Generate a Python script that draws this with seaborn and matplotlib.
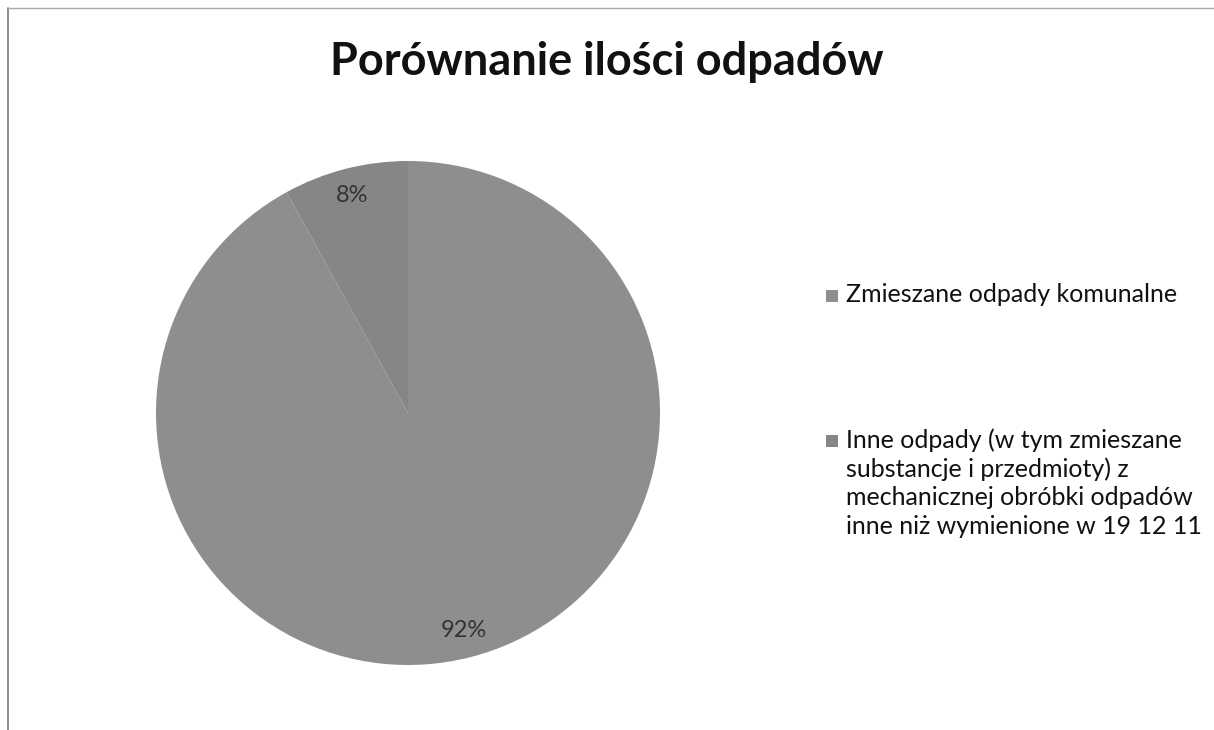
import matplotlib
matplotlib.use('Agg')
import matplotlib.pyplot as plt
from matplotlib.patches import Rectangle
import seaborn as sns

# dane wykresu
kategorie = [
    'Zmieszane odpady komunalne',
    'Inne odpady (w tym zmieszane\nsubstancje i przedmioty) z\nmechanicznej obróbki odpadów\ninne niż wymienione w 19 12 11',
]
udzialy = [92, 8]
kolory = ['#8e8e8e', '#868686']

sns.set_theme(style='white')
plt.rcParams['font.family'] = ['Lato', 'DejaVu Sans']

fig = plt.figure(figsize=(12.14, 7.3), dpi=100)
W, H = 1214, 730
cx, cy, r = 408, 413, 252
ax = fig.add_axes([(cx - r) / W, (H - cy - r) / H, 2 * r / W, 2 * r / H])

wedges, texts, autotexts = ax.pie(
    udzialy, colors=kolory, startangle=90, counterclock=False,
    autopct='%1.0f%%', pctdistance=0.89,
    textprops={'fontsize': 17, 'color': '#333333'},
    wedgeprops={'linewidth': 0},
)
ax.set_xlim(-1, 1)
ax.set_ylim(-1, 1)

fig.suptitle('Porównanie ilości odpadów', y=1 - 62 / H, va='center',
             fontsize=32.5, fontweight='bold', color='#111111')

# legenda - znacznik przy pierwszej linii opisu
pozycje_y = [297, 442]
for kat, kol, py in zip(kategorie, kolory, pozycje_y):
    fig.add_artist(Rectangle((826 / W, 1 - (py + 5) / H), 12 / W, 12 / H,
                             transform=fig.transFigure, color=kol, lw=0))
    fig.text(846 / W, 1 - (py - 14) / H, kat, ha='left', va='top',
             fontsize=18, color='#111111', linespacing=1.29)

# ramka wykresu (lewa i górna krawędź)
fig.add_artist(plt.Line2D([8 / W, 8 / W], [0, 1 - 8 / H], color='#777777', lw=1.2))
fig.add_artist(plt.Line2D([8 / W, 1], [1 - 8 / H, 1 - 8 / H], color='#aaaaaa', lw=1.0))

plt.savefig('out.png', dpi=100)
plt.close()
